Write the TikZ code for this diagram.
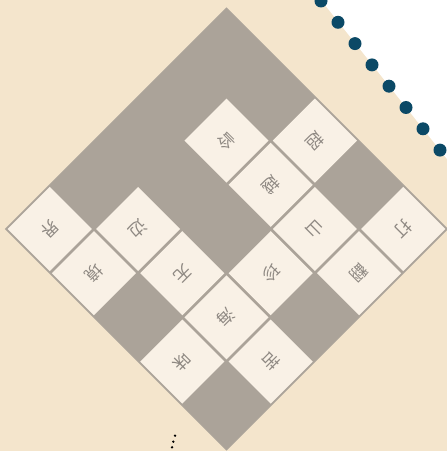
\documentclass[tikz,border=0pt]{standalone}
\usepackage{fontspec}
\newfontfamily\cjk{Noto Sans CJK SC}
\usetikzlibrary{positioning}

\definecolor{parchment}{HTML}{F4E5CC}
\definecolor{boardgray}{HTML}{ABA399}
\definecolor{cellfill}{HTML}{F9F1E6}
\definecolor{glyph}{HTML}{8E8882}
\definecolor{dotblue}{HTML}{0B4966}

\begin{document}
\begin{tikzpicture}[
    x=1pt, y=1pt,
    board/.style={fill=boardgray, draw=boardgray, line width=1pt, minimum size=312.5pt, inner sep=0pt},
    cell/.style={fill=cellfill, minimum size=59.5pt, inner sep=0pt, font=\cjk\fontsize{17}{17}\selectfont, text=glyph},
    bead/.style={circle, fill=dotblue, minimum size=13pt, inner sep=0pt},
    speck/.style={circle, fill=black, minimum size=2.6pt, inner sep=0pt}
]
    \useasboundingbox (0,0) rectangle (447,451);
    \fill[parchment] (0,0) rectangle (447,451);
    \fill[white] (321,451) -- (447,451) -- (447,292) -- cycle;

    % beads along the cut edge
    \foreach \k in {0,...,7}
        \node[bead] (bead\k) at ({321+17*\k}, {450-21.3*\k}) {};

    % the crossword, turned on its corner
    \begin{scope}[shift={(226.5,222)}, rotate=225, transform shape]
        \node[board] (board) at (0,0) {};
        \foreach \r/\c/\ch in {0/0/打, 0/1/翻, 0/3/苦,
                               1/1/山, 1/2/珍, 1/3/海, 1/4/味,
                               2/0/超, 2/1/越, 2/3/无,
                               3/1/岭, 3/3/边, 3/4/境,
                               4/4/界}
            \node[cell] (cell\r\c) at ({(\c-2)*62.5}, {(2-\r)*62.5}) {\ch};
    \end{scope}

    \node[speck] (speck0) at (175,15.3) {};
    \node[speck] (speck1) at (173.3,9.3) {};
    \node[speck] (speck2) at (172,3.7) {};
\end{tikzpicture}
\end{document}
